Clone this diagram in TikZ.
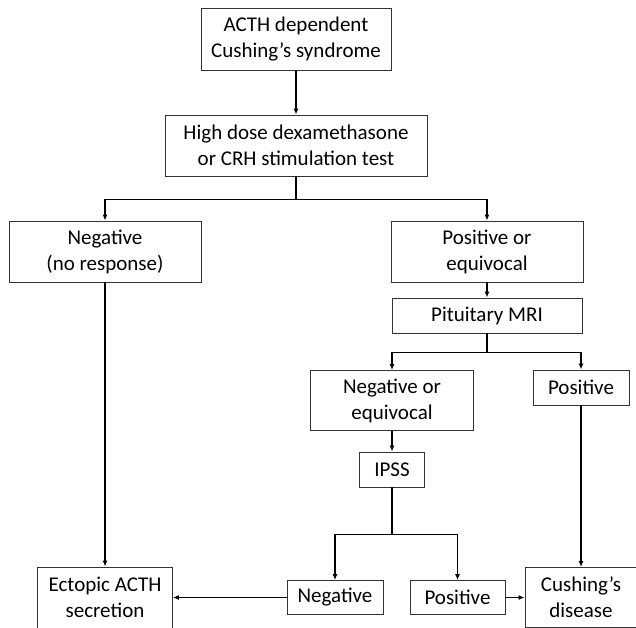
\documentclass[tikz,border=0pt]{standalone}
\usepackage{fontspec}
\setmainfont{Carlito}
\usetikzlibrary{arrows.meta}
\begin{document}
\begin{tikzpicture}[x=1pt,y=-1pt,
  box/.style={draw=black!80, line width=0.9pt, align=center, inner sep=0pt,
    font=\fontsize{21}{26}\selectfont},
  arr/.style={line width=1.4pt, -{Latex[length=6pt,width=5pt]}},
  link/.style={line width=1.4pt}]
\path[use as bounding box, clip] (0,0) rectangle (636,627);

\node[box, minimum width=190, minimum height=62] (acth) at (296,39) {ACTH dependent\\Cushing’s syndrome};
\node[box, minimum width=262, minimum height=61] (test) at (296,145.5) {High dose dexamethasone\\or CRH stimulation test};
\node[box, minimum width=192, minimum height=61] (neg) at (105,251.5) {Negative\\(no response)};
\node[box, minimum width=192, minimum height=61] (pos) at (487,251.5) {Positive or\\equivocal};
\node[box, minimum width=190, minimum height=35] (mri) at (487,315.5) {Pituitary MRI};
\node[box, minimum width=163, minimum height=60] (negeq) at (392,400.5) {Negative or\\equivocal};
\node[box, minimum width=96, minimum height=35] (posmri) at (581,387.5) {Positive};
\node[box, minimum width=65, minimum height=35] (ipss) at (392,469.5) {IPSS};
\node[box, minimum width=96, minimum height=34] (negipss) at (335,597.5) {Negative};
\node[box, minimum width=95, minimum height=34] (posipss) at (457.5,597.5) {Positive};
\node[box, minimum width=135, minimum height=61] (ectopic) at (105,597.5) {Ectopic ACTH\\secretion};
\node[box, minimum width=112, minimum height=60] (cushing) at (581,597.5) {Cushing’s\\disease};

\draw[arr] (acth) -- (test);
\draw[link] (test.south) -- ++(0,23) coordinate (split1);
\draw[arr] (split1) -| (neg);
\draw[arr] (split1) -| (pos);
\draw[arr] (pos) -- (mri);
\draw[link] (mri.south) -- ++(0,19) coordinate (split2);
\draw[arr] (split2) -| (negeq);
\draw[arr] (split2) -| (posmri);
\draw[arr] (negeq) -- (ipss);
\draw[link] (ipss.south) -- ++(0,47) coordinate (split3);
\draw[arr] (split3) -| (negipss);
\draw[arr] (split3) -| (posipss);
\draw[arr] (neg) -- (ectopic);
\draw[arr] (posmri) -- (cushing);
\draw[arr] (negipss) -- (ectopic);
\draw[arr] (posipss) -- (cushing);

\end{tikzpicture}
\end{document}
